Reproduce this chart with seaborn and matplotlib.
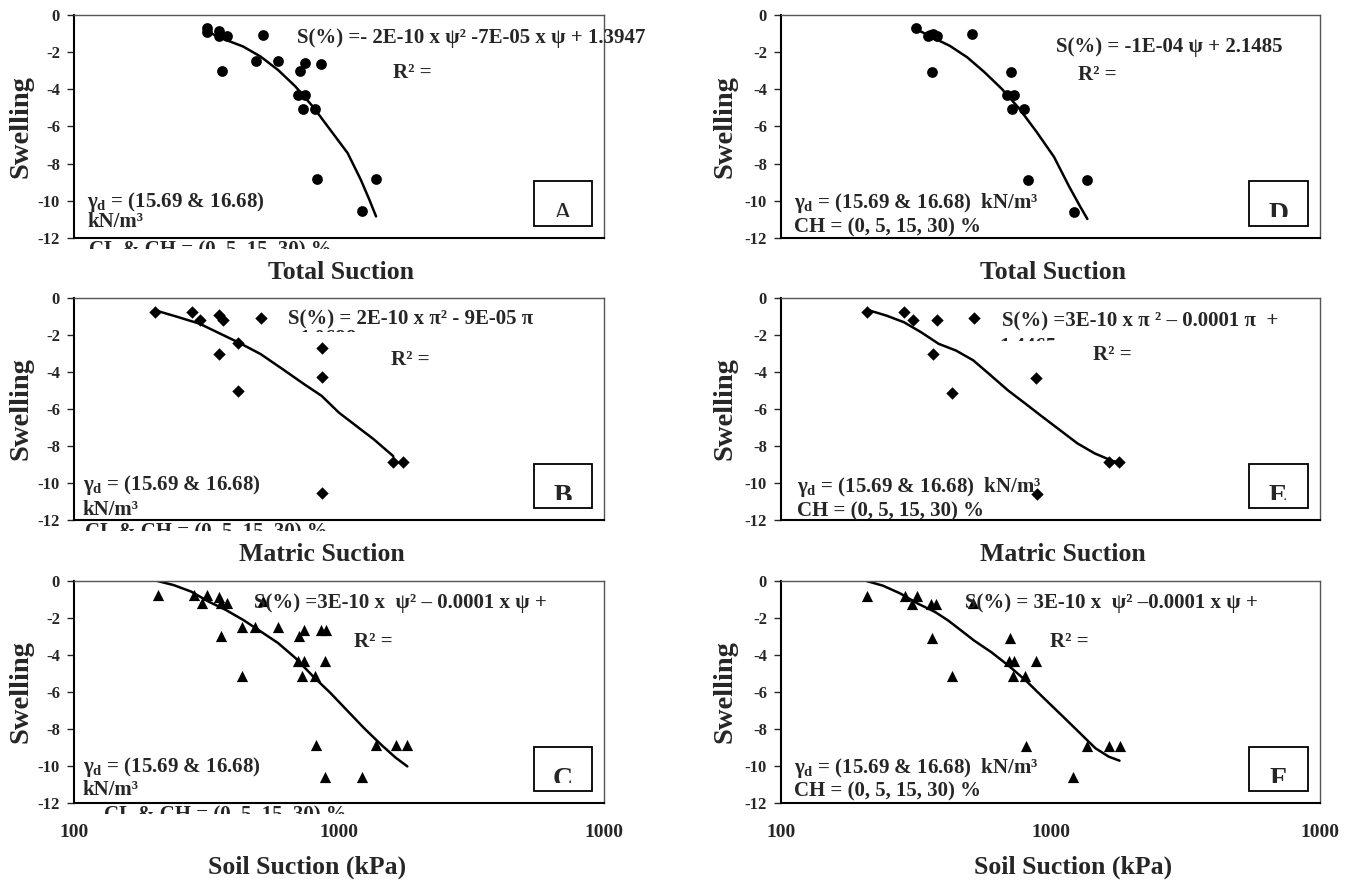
import numpy as np
import pandas as pd
import matplotlib
matplotlib.use("Agg")
import matplotlib.pyplot as plt
from matplotlib.patches import Rectangle
import seaborn as sns

# ---- data (x = soil suction kPa, y = swelling %) ----
a_x = [318, 318, 353, 353, 377, 518, 362, 488, 591, 711, 745, 857, 701, 745, 731, 813, 824, 1380, 1222]
a_y = [-0.72, -0.93, -0.84, -1.13, -1.11, -1.06, -3.0, -2.47, -2.47, -2.99, -2.6, -2.63, -4.3, -4.3, -5.07, -5.07, -8.82, -8.82, -10.57]
a_fit_x = [318, 374, 435, 506, 589, 685, 797, 927, 1079, 1209, 1303, 1380]
a_fit_y = [-0.90, -1.34, -1.70, -2.24, -2.96, -3.85, -4.93, -6.18, -7.44, -8.87, -9.95, -10.84]

d_x = [318, 356, 365, 379, 352, 513, 362, 711, 691, 733, 722, 800, 824, 1361, 1227]
d_y = [-0.71, -1.09, -1.0, -1.11, -1.12, -1.03, -3.05, -3.05, -4.3, -4.3, -5.04, -5.04, -8.86, -8.86, -10.59]
d_fit_x = [318, 365, 423, 491, 569, 660, 766, 888, 1030, 1173, 1288, 1371]
d_fit_y = [-0.77, -1.21, -1.66, -2.28, -3.08, -3.98, -5.04, -6.29, -7.63, -9.23, -10.30, -10.98]

b_x = [203, 279, 298, 353, 365, 506, 353, 416, 416, 866, 860, 866, 1603, 1749]
b_y = [-0.76, -0.76, -1.18, -0.91, -1.18, -1.09, -3.03, -2.45, -5.02, -2.72, -4.29, -10.54, -8.86, -8.86]
b_fit_x = [203, 247, 298, 347, 416, 506, 612, 739, 860, 1000, 1163, 1353, 1603]
b_fit_y = [-0.67, -1.03, -1.39, -1.85, -2.39, -3.03, -3.84, -4.66, -5.29, -6.20, -6.92, -7.64, -8.55]

e_x = [208, 286, 308, 380, 521, 365, 430, 885, 895, 1644, 1803]
e_y = [-0.77, -0.77, -1.18, -1.18, -1.08, -3.02, -5.12, -4.33, -10.61, -8.87, -8.87]
e_fit_x = [208, 246, 286, 331, 385, 446, 517, 600, 695, 807, 935, 1084, 1259, 1459, 1693, 1805]
e_fit_y = [-0.63, -0.95, -1.31, -1.85, -2.48, -2.84, -3.37, -4.18, -4.99, -5.71, -6.43, -7.14, -7.86, -8.40, -8.80, -8.90]

c_x = [207, 284, 304, 318, 353, 360, 377, 516, 360, 429, 484, 589, 706, 739, 853, 893,
       429, 698, 739, 886, 728, 809, 822, 1380, 1648, 1812, 886, 1222]
c_y = [-0.75, -0.75, -1.2, -0.75, -0.88, -1.16, -1.16, -1.1, -2.99, -2.49, -2.49, -2.49, -2.99, -2.67, -2.67, -2.67,
       -5.11, -4.34, -4.34, -4.34, -5.11, -5.11, -8.85, -8.85, -8.85, -8.85, -10.61, -10.61]
c_fit_x = [207, 238, 277, 322, 374, 435, 506, 589, 685, 797, 927, 1079, 1255, 1459, 1634, 1811]
c_fit_y = [0.0, -0.22, -0.57, -1.11, -1.56, -2.10, -2.72, -3.35, -4.16, -5.14, -6.04, -7.03, -8.01, -8.91, -9.54, -10.02]

f_x = [208, 288, 306, 319, 359, 377, 515, 362, 430, 706, 701, 735, 727, 807, 885, 813, 1365, 1644, 1804, 1208]
f_y = [-0.8, -0.8, -1.22, -0.8, -1.22, -1.22, -1.18, -3.07, -5.13, -3.09, -4.31, -4.31, -5.13, -5.13, -4.31,
       -8.93, -8.93, -8.93, -8.93, -10.62]
f_fit_x = [208, 239, 277, 322, 373, 417, 466, 521, 604, 700, 813, 942, 1094, 1268, 1469, 1644, 1804]
f_fit_y = [0.0, -0.25, -0.67, -1.22, -1.67, -2.13, -2.67, -3.22, -3.85, -4.58, -5.40, -6.31, -7.22, -8.13, -9.04, -9.49, -9.71]

y_ticks = [-12, -10, -8, -6, -4, -2, 0]
x_ticks = [100, 1000, 10000]
x_tick_labels = ["100", "1000", "1000"]

eqs = {
    "A": "S(%) =- 2E-10 x ψ² -7E-05 x ψ + 1.3947",
    "D": "S(%) = -1E-04 ψ + 2.1485",
    "B": "S(%) = 2E-10 x π² - 9E-05 π",
    "E": "S(%) =3E-10 x π ² – 0.0001 π  +",
    "C": "S(%) =3E-10 x  ψ² – 0.0001 x ψ +",
    "F": "S(%) = 3E-10 x  ψ² –0.0001 x ψ +",
}

sns.set_style("white")
plt.rcParams["font.family"] = ["Liberation Serif", "DejaVu Serif"]
plt.rcParams["font.weight"] = "bold"
plt.rcParams["mathtext.fontset"] = "custom"
plt.rcParams["mathtext.rm"] = "Liberation Serif"
plt.rcParams["mathtext.it"] = "Liberation Serif"
plt.rcParams["mathtext.bf"] = "Liberation Serif:bold"
plt.rcParams["axes.unicode_minus"] = False

fig = plt.figure(figsize=(13.47, 8.84), dpi=100)

L = (0.0549, 0.3935)
R = (0.5798, 0.4001)
rows = [(0.7308, 0.2523), (0.4118, 0.2511), (0.0916, 0.2511)]

panels = [
    ("A", L, rows[0], a_x, a_y, a_fit_x, a_fit_y, "o", 60),
    ("D", R, rows[0], d_x, d_y, d_fit_x, d_fit_y, "o", 60),
    ("B", L, rows[1], b_x, b_y, b_fit_x, b_fit_y, "D", 40),
    ("E", R, rows[1], e_x, e_y, e_fit_x, e_fit_y, "D", 40),
    ("C", L, rows[2], c_x, c_y, c_fit_x, c_fit_y, "^", 65),
    ("F", R, rows[2], f_x, f_y, f_fit_x, f_fit_y, "^", 65),
]

# text positions (axes fraction): eq, R2, gamma line, second line
txt_pos = {
    "A": [(0.421, 0.897), (0.602, 0.740), (0.025, 0.161), (0.025, 0.072)],
    "D": [(0.510, 0.857), (0.551, 0.731), (0.024, 0.157), (0.024, 0.045)],
    "B": [(0.404, 0.901), (0.598, 0.721), (0.017, 0.158), (0.017, 0.045)],
    "E": [(0.410, 0.892), (0.579, 0.743), (0.030, 0.149), (0.030, 0.036)],
    "C": [(0.340, 0.900), (0.528, 0.725), (0.017, 0.162), (0.017, 0.059)],
    "F": [(0.341, 0.900), (0.499, 0.725), (0.024, 0.158), (0.024, 0.050)],
}
fs = 15
gamma = r"$\gamma_{\rm d}$"

for name, col, row, px, py, fx, fy, mk, ms in panels:
    ax = fig.add_axes([col[0], row[0], col[1], row[1]])
    ax.set_xscale("log")
    sns.scatterplot(x=px, y=py, ax=ax, marker=mk, s=ms, color="black",
                    edgecolor="black", linewidth=0, legend=False, zorder=3)
    sns.lineplot(x=fx, y=fy, ax=ax, color="black", lw=1.8, sort=False,
                 estimator=None, legend=False, zorder=2)
    ax.set_xlim(100, 10000)
    ax.set_ylim(-12, 0)
    ax.set_yticks(y_ticks)
    ax.set_yticklabels([str(v) for v in y_ticks], fontsize=12, fontweight="bold")
    ax.minorticks_off()
    ax.set_xticks(x_ticks)
    if name in ("C", "F"):
        ax.set_xticklabels(x_tick_labels, fontsize=14, fontweight="bold")
    else:
        ax.set_xticklabels([])
    ax.tick_params(axis="x", length=0, pad=15)
    ax.tick_params(axis="y", length=5, width=1, direction="out", left=True, pad=5)
    ax.set_xlabel("")
    ax.set_ylabel("")
    for s in ("left", "bottom"):
        ax.spines[s].set_color("black")
        ax.spines[s].set_linewidth(1.5)
    for s in ("top", "right"):
        ax.spines[s].set_color("#555555")
        ax.spines[s].set_linewidth(1.0)

    p = txt_pos[name]
    ax.text(p[0][0], p[0][1], eqs[name], transform=ax.transAxes, fontsize=fs,
            fontweight="bold", va="center", ha="left", zorder=4)
    ax.text(p[1][0], p[1][1], "R² =", transform=ax.transAxes, fontsize=fs,
            fontweight="bold", va="center", ha="left")
    if name in ("A", "B", "C"):
        ax.text(p[2][0], p[2][1], gamma + " = (15.69 & 16.68)", transform=ax.transAxes,
                fontsize=fs, fontweight="bold", va="center", ha="left")
        ax.text(p[3][0], p[3][1], "kN/m³", transform=ax.transAxes,
                fontsize=fs, fontweight="bold", va="center", ha="left")
        # third line of the text box, cut off below the axes
        clip = Rectangle((-0.1, -0.05), 1.2, 0.06, transform=ax.transAxes)
        t = ax.text(p[2][0] + (0.04 if name == "C" else 0.003), -0.078,
                    "CL & CH = (0, 5, 15, 30) %", transform=ax.transAxes,
                    fontsize=fs, fontweight="bold", va="baseline", ha="left", clip_on=True)
        t.set_clip_path(clip)
    else:
        ax.text(p[2][0], p[2][1], gamma + " = (15.69 & 16.68)  kN/m³", transform=ax.transAxes,
                fontsize=fs, fontweight="bold", va="center", ha="left")
        ax.text(p[3][0], p[3][1], "CH = (0, 5, 15, 30) %", transform=ax.transAxes,
                fontsize=fs, fontweight="bold", va="center", ha="left")

    # second equation line, mostly hidden
    if name == "B":
        clip2 = Rectangle((0, 0.845), 1, 0.2, transform=ax.transAxes)
        t2 = ax.text(0.426, 0.795, "1.0698", transform=ax.transAxes, fontsize=fs,
                     fontweight="bold", va="baseline", ha="left", clip_on=True)
        t2.set_clip_path(clip2)
    if name == "E":
        clip2 = Rectangle((0, 0.807), 1, 0.2, transform=ax.transAxes)
        t2 = ax.text(0.406, 0.755, "1.4465", transform=ax.transAxes, fontsize=fs,
                     fontweight="bold", va="baseline", ha="left", clip_on=True)
        t2.set_clip_path(clip2)

    # panel letter box
    box = Rectangle((0.868, 0.052), 0.109, 0.202, transform=ax.transAxes,
                    fill=False, edgecolor="black", lw=1.3, clip_on=False, zorder=5)
    ax.add_patch(box)
    inner = Rectangle((0.868, 0.092), 0.109, 0.16, transform=ax.transAxes)
    lt = ax.text(0.9225, 0.078, name, transform=ax.transAxes, fontsize=20,
                 fontweight="normal" if name == "A" else "bold",
                 va="baseline", ha="center", clip_on=True)
    lt.set_clip_path(inner)

# axis titles and y labels as figure text
for xf in (0.0156, 0.538):
    for yc in (0.8570, 0.5374, 0.2172):
        fig.text(xf, yc, "Swelling", rotation=90, fontsize=20.5, fontweight="bold",
                 ha="center", va="center")
fig.text(0.2532, 0.6923, "Total Suction", fontsize=18.5, fontweight="bold", ha="center", va="center")
fig.text(0.7817, 0.6923, "Total Suction", fontsize=18.5, fontweight="bold", ha="center", va="center")
fig.text(0.2390, 0.3722, "Matric Suction", fontsize=18.5, fontweight="bold", ha="center", va="center")
fig.text(0.7890, 0.3722, "Matric Suction", fontsize=18.5, fontweight="bold", ha="center", va="center")
fig.text(0.2280, 0.0192, "Soil Suction (kPa)", fontsize=18.5, fontweight="bold", ha="center", va="center")
fig.text(0.7966, 0.0192, "Soil Suction (kPa)", fontsize=18.5, fontweight="bold", ha="center", va="center")

fig.savefig("out.png", dpi=100)
